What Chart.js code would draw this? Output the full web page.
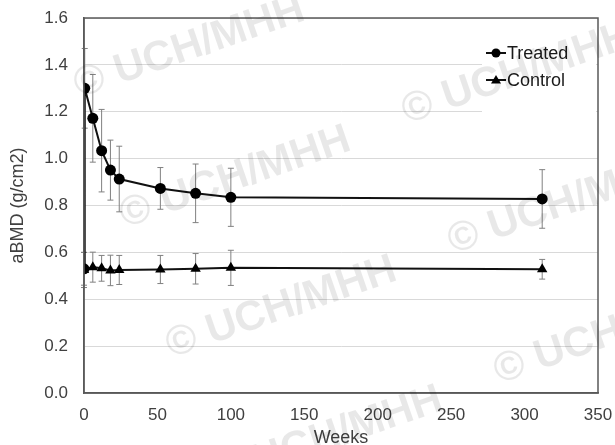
<!DOCTYPE html>
<html>
<head>
<meta charset="utf-8">
<script src="https://cdn.jsdelivr.net/npm/chart.js@4"></script>
<style>
  html, body { margin: 0; padding: 0; background: #fff; }
  #grafico { display: block; }
</style>
</head>
<body>
<canvas id="grafico" width="615" height="445"></canvas>
<script>
// data
const weeksTreated = [0, 0.5, 6, 12, 18, 24, 52, 76, 100, 312];
const treated      = [0.53, 1.30, 1.172, 1.034, 0.951, 0.913, 0.873, 0.852, 0.835, 0.828];
const treatedErr   = [0.07, 0.17, 0.187, 0.176, 0.128, 0.14, 0.089, 0.125, 0.124, 0.125];

const weeksControl = [0, 6, 12, 18, 24, 52, 76, 100, 312];
const control      = [0.525, 0.537, 0.532, 0.523, 0.525, 0.527, 0.53, 0.534, 0.528];
const controlErr   = [0.075, 0.064, 0.055, 0.065, 0.062, 0.06, 0.065, 0.075, 0.042];

const xTicks = [0, 50, 100, 150, 200, 250, 300, 350];
const yTicks = [0.0, 0.2, 0.4, 0.6, 0.8, 1.0, 1.2, 1.4, 1.6];

const FONT = "'Liberation Sans', Arial, sans-serif";
const TXT = '#404040';

function pts(xs, ys) {
    return xs.map((x, i) => ({ x: x, y: ys[i] }));
}

// error bars, drawn through the scales
const errorBars = {
    id: 'errorBars',
    beforeDatasetsDraw(chart) {
        const ctx = chart.ctx;
        const xs = chart.scales.x, ys = chart.scales.y;
        const sets = [[weeksTreated, treated, treatedErr], [weeksControl, control, controlErr]];
        ctx.save();
        ctx.strokeStyle = '#808080';
        ctx.lineWidth = 1;
        sets.forEach(s => {
            s[0].forEach((w, i) => {
                const px = xs.getPixelForValue(w);
                const top = ys.getPixelForValue(s[1][i] + s[2][i]);
                const bot = ys.getPixelForValue(s[1][i] - s[2][i]);
                ctx.beginPath();
                ctx.moveTo(px, top); ctx.lineTo(px, bot);
                ctx.moveTo(px - 3, top); ctx.lineTo(px + 3, top);
                ctx.moveTo(px - 3, bot); ctx.lineTo(px + 3, bot);
                ctx.stroke();
            });
        });
        ctx.restore();
    }
};

// plot box round the chart area
const plotBox = {
    id: 'plotBox',
    afterDatasetsDraw(chart) {
        const a = chart.chartArea, ctx = chart.ctx;
        ctx.save();
        ctx.strokeStyle = '#595959';
        ctx.lineWidth = 1.5;
        ctx.strokeRect(a.left, a.top, a.right - a.left, a.bottom - a.top);
        ctx.restore();
    }
};

// legend with line + marker sample
const boxLegend = {
    id: 'boxLegend',
    afterDatasetsDraw(chart) {
        const a = chart.chartArea, ctx = chart.ctx;
        ctx.save();
        ctx.fillStyle = '#fff';
        ctx.fillRect(a.right - 116, a.top + 18, 114, 76);
        const items = [['Treated', 'circle', a.top + 35], ['Control', 'triangle', a.top + 62]];
        items.forEach(it => {
            const x0 = a.right - 112, y = it[2];
            ctx.strokeStyle = '#111';
            ctx.lineWidth = 2;
            ctx.beginPath();
            ctx.moveTo(x0, y); ctx.lineTo(x0 + 20, y);
            ctx.stroke();
            ctx.fillStyle = '#000';
            ctx.beginPath();
            if (it[1] === 'circle') {
                ctx.arc(x0 + 10, y, 4.5, 0, Math.PI * 2);
            } else {
                ctx.moveTo(x0 + 10, y - 5);
                ctx.lineTo(x0 + 15, y + 3.5);
                ctx.lineTo(x0 + 5, y + 3.5);
                ctx.closePath();
            }
            ctx.fill();
            ctx.fillStyle = '#1a1a1a';
            ctx.font = '18px ' + FONT;
            ctx.textAlign = 'left';
            ctx.textBaseline = 'middle';
            ctx.fillText(it[0], x0 + 21, y + 1);
        });
        ctx.restore();
    }
};

// faint copyright watermark tiled over the picture
const watermark = {
    id: 'watermark',
    afterDraw(chart) {
        const ctx = chart.ctx;
        const bases = [[90, 82], [418, 108]];
        ctx.save();
        ctx.font = 'bold 42px ' + FONT;
        ctx.fillStyle = 'rgba(0,0,0,0.09)';
        ctx.textAlign = 'left';
        ctx.textBaseline = 'middle';
        bases.forEach(b => {
            for (let i = -1; i < 4; i++) {
                ctx.save();
                ctx.translate(b[0] + i * 46, b[1] + i * 130);
                ctx.rotate(-19 * Math.PI / 180);
                ctx.fillText('\u00A9 UCH/MHH', -15.5, 0);
                ctx.restore();
            }
        });
        ctx.restore();
    }
};

const grafico = document.getElementById('grafico');

const data = {
    datasets: [{
        label: 'Treated',
        data: pts(weeksTreated, treated),
        showLine: true,
        borderColor: '#111',
        borderWidth: 2,
        backgroundColor: '#000',
        pointStyle: 'circle',
        pointRadius: 5.5,
        pointBorderWidth: 0
    }, {
        label: 'Control',
        data: pts(weeksControl, control),
        showLine: true,
        borderColor: '#111',
        borderWidth: 2,
        backgroundColor: '#000',
        pointStyle: 'triangle',
        pointRadius: 6,
        pointBorderWidth: 0
    }]
};

const config = {
    type: 'scatter',
    data: data,
    plugins: [errorBars, plotBox, boxLegend, watermark],
    options: {
        responsive: false,
        animation: false,
        devicePixelRatio: 1,
        layout: { padding: { top: 18, right: 17, left: 0, bottom: 0 } },
        scales: {
            x: {
                type: 'linear',
                min: 0,
                max: 350,
                afterFit: s => { s.height = 52; s.paddingLeft = 0; s.paddingRight = 0; },
                afterBuildTicks: s => { s.ticks = xTicks.map(v => ({ value: v })); },
                grid: { display: false, drawTicks: false },
                border: { display: true, color: '#595959', width: 1.5 },
                ticks: {
                    color: TXT,
                    padding: 12,
                    font: { size: 17, family: FONT }
                },
                title: {
                    display: true,
                    text: 'Weeks',
                    color: TXT,
                    padding: { top: 0, bottom: -4 },
                    font: { size: 18, family: FONT }
                }
            },
            y: {
                min: 0,
                max: 1.6,
                afterFit: s => { s.width = 84; s.paddingTop = 0; s.paddingBottom = 0; },
                afterBuildTicks: s => { s.ticks = yTicks.map(v => ({ value: v })); },
                grid: { color: '#d9d9d9', lineWidth: 1, drawTicks: false },
                border: { display: true, color: '#595959', width: 1.5 },
                ticks: {
                    color: TXT,
                    padding: 16,
                    font: { size: 17, family: FONT },
                    callback: v => v.toFixed(1)
                },
                title: {
                    display: true,
                    text: 'aBMD (g/cm2)',
                    color: TXT,
                    padding: { top: 7, bottom: 0 },
                    font: { size: 18, family: FONT }
                }
            }
        },
        plugins: {
            legend: { display: false },
            tooltip: { enabled: false }
        }
    }
};

const grafico_1 = new Chart(grafico, config);
</script>
</body>
</html>
